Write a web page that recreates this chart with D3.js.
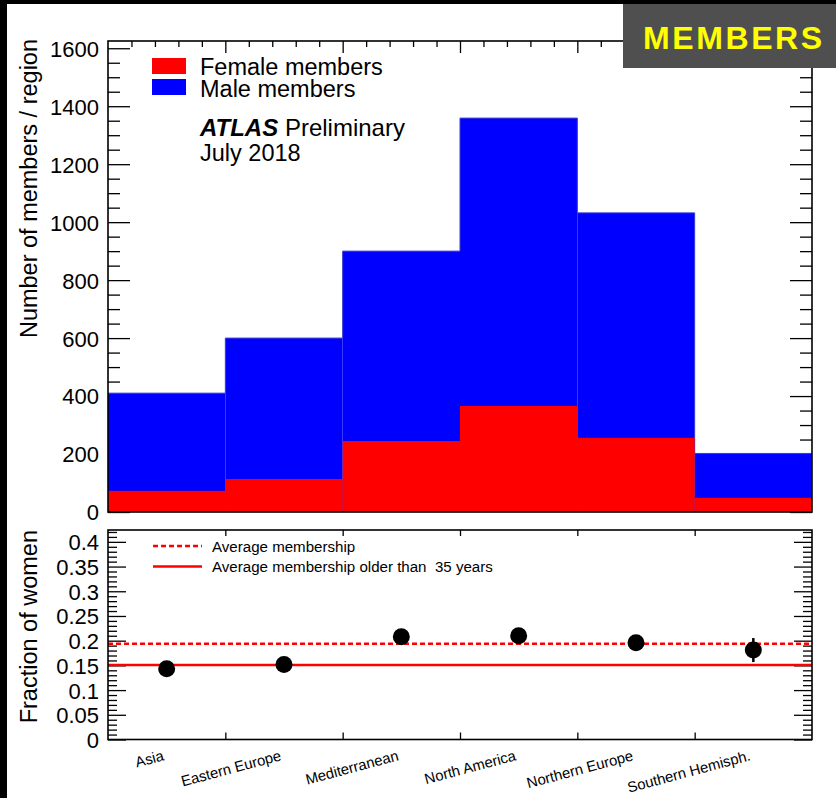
<!DOCTYPE html>
<html>
<head>
<meta charset="utf-8">
<script src="https://cdn.jsdelivr.net/npm/d3@7/dist/d3.min.js"></script>
<style>
  html, body { margin: 0; padding: 0; background: #fff; }
  svg { display: block; }
  text { font-family: "Liberation Sans", Arial, Helvetica, sans-serif; fill: #000; }
</style>
</head>
<body>
<svg id="chart" width="836" height="798"></svg>
<script>
// ATLAS membership per region, July 2018
const regions = ["Asia", "Eastern Europe", "Mediterranean", "North America", "Northern Europe", "Southern Hemisph."];
const femaleMembers = [73, 114, 245, 366, 256, 49];
const maleMembers = [410, 600, 900, 1359, 1032, 202];
const fractionWomen = [0.143, 0.152, 0.208, 0.210, 0.196, 0.181];
const averageFraction = 0.194;
const averageFractionOver35 = 0.151;
const countTicks = [0, 200, 400, 600, 800, 1000, 1200, 1400, 1600];
const fractionTicks = [0, 0.05, 0.1, 0.15, 0.2, 0.25, 0.3, 0.35, 0.4];
const fractionTickLabels = ["0", "0.05", "0.1", "0.15", "0.2", "0.25", "0.3", "0.35", "0.4"];

const svg = d3.select("#chart");

// frame geometry
const left = 108, right = 812;
const top1 = 41, bottom1 = 512;
const top2 = 530, bottom2 = 739.5;

const x = d3.scaleBand().domain(regions).range([left, right]).padding(0);
const bw = x.bandwidth();
const edges = regions.map(r => x(r)).concat([right]);
const minorX = [];
edges.slice(0, -1).forEach(e => { for (let k = 1; k < 5; k++) minorX.push(e + k * bw / 5); });

const yTop = d3.scaleLinear().domain([0, 1625]).range([bottom1, top1]);
const yBot = d3.scaleLinear().domain([0, 0.424]).range([bottom2, top2]);

function styleAxis(g, width) {
  g.select(".domain").remove();
  g.selectAll(".tick line").attr("stroke", "#000").attr("stroke-width", width || 1.3);
  g.selectAll(".tick text").style("font-family", "'Liberation Sans', Arial, Helvetica, sans-serif");
}

// ---------- upper panel: members per region ----------
const up = svg.append("g");

// y ticks (left labelled, right mirrored)
const minorCount = d3.range(0, 1626, 50).filter(v => v % 200 !== 0);
up.append("g").attr("transform", `translate(${left},0)`)
  .call(d3.axisLeft(yTop).tickValues(minorCount).tickSize(-12).tickFormat(""))
  .call(g => styleAxis(g));
up.append("g").attr("transform", `translate(${left},0)`)
  .call(d3.axisLeft(yTop).tickValues(countTicks).tickSizeInner(-22).tickSizeOuter(0).tickPadding(9).tickFormat(d3.format("d")))
  .call(g => styleAxis(g))
  .call(g => g.selectAll(".tick text").attr("font-size", 22).attr("dy", "0.36em"));
up.append("g").attr("transform", `translate(${right},0)`)
  .call(d3.axisRight(yTop).tickValues(minorCount).tickSize(-12).tickFormat(""))
  .call(g => styleAxis(g));
up.append("g").attr("transform", `translate(${right},0)`)
  .call(d3.axisRight(yTop).tickValues(countTicks).tickSize(-22).tickFormat(""))
  .call(g => styleAxis(g));

// x ticks along the top edge
const xEdgeScale = d3.scaleLinear().domain([left, right]).range([left, right]);
up.append("g").attr("transform", `translate(0,${top1})`)
  .call(d3.axisTop(xEdgeScale).tickValues(minorX).tickSize(-6).tickFormat(""))
  .call(g => styleAxis(g));
up.append("g").attr("transform", `translate(0,${top1})`)
  .call(d3.axisTop(xEdgeScale).tickValues(edges.slice(1, -1)).tickSize(-12).tickFormat(""))
  .call(g => styleAxis(g));

// male histogram (blue) and female histogram (red) drawn from zero
up.append("g").selectAll("rect").data(regions).join("rect")
  .attr("x", d => x(d)).attr("width", bw)
  .attr("y", (d, i) => yTop(maleMembers[i]))
  .attr("height", (d, i) => yTop(0) - yTop(maleMembers[i]))
  .attr("fill", "#0000ff");
up.append("path")
  .attr("d", d3.line().curve(d3.curveStepAfter)(
    regions.map((d, i) => [x(d), yTop(maleMembers[i])]).concat([[right, yTop(maleMembers[maleMembers.length - 1])]])))
  .attr("fill", "none").attr("stroke", "#3a3ad0").attr("stroke-width", 1);
up.append("g").selectAll("rect").data(regions).join("rect")
  .attr("x", d => x(d)).attr("width", bw)
  .attr("y", (d, i) => yTop(femaleMembers[i]))
  .attr("height", (d, i) => yTop(0) - yTop(femaleMembers[i]))
  .attr("fill", "#ff0000");

// label box in the corner
svg.append("rect").attr("x", 623).attr("y", 4).attr("width", 213).attr("height", 64).attr("fill", "#4f4f4f");

up.append("rect").attr("x", left).attr("y", top1).attr("width", right - left).attr("height", bottom1 - top1)
  .attr("fill", "none").attr("stroke", "#000").attr("stroke-width", 1.6);

svg.append("text").attr("x", 643).attr("y", 48.5)
  .attr("font-size", 32).attr("font-weight", "bold").attr("letter-spacing", 2.6)
  .style("fill", "#ffff00").text("MEMBERS");

// legend
const legend = up.append("g");
legend.append("rect").attr("x", 152).attr("y", 58).attr("width", 34).attr("height", 16).attr("fill", "#ff0000");
legend.append("rect").attr("x", 152).attr("y", 79).attr("width", 34).attr("height", 16).attr("fill", "#0000ff");
legend.append("text").attr("x", 200).attr("y", 75).attr("font-size", 23.5).text("Female members");
legend.append("text").attr("x", 200).attr("y", 97).attr("font-size", 23.5).text("Male members");
const atl = up.append("text").attr("x", 200).attr("y", 136).attr("font-size", 24);
atl.append("tspan").attr("font-weight", "bold").attr("font-style", "italic").text("ATLAS");
atl.append("tspan").text(" Preliminary");
up.append("text").attr("x", 200).attr("y", 161).attr("font-size", 23.5).text("July 2018");

// y title
up.append("text").attr("transform", "translate(37,39) rotate(-90)")
  .attr("text-anchor", "end").attr("font-size", 23.5).text("Number of members / region");

// ---------- lower panel: fraction of women ----------
const lo = svg.append("g");
const minorFrac = d3.range(1, 43).map(v => v / 100).filter(v => Math.round(v * 100) % 5 !== 0 && v <= 0.424);

lo.append("g").attr("transform", `translate(${left},0)`)
  .call(d3.axisLeft(yBot).tickValues(minorFrac).tickSize(-9).tickFormat(""))
  .call(g => styleAxis(g));
lo.append("g").attr("transform", `translate(${left},0)`)
  .call(d3.axisLeft(yBot).tickValues(fractionTicks).tickSizeInner(-18).tickSizeOuter(0).tickPadding(9)
    .tickFormat((d, i) => fractionTickLabels[i]))
  .call(g => styleAxis(g))
  .call(g => g.selectAll(".tick text").attr("font-size", 22).attr("dy", "0.36em"));
lo.append("g").attr("transform", `translate(${right},0)`)
  .call(d3.axisRight(yBot).tickValues(minorFrac).tickSize(-9).tickFormat(""))
  .call(g => styleAxis(g));
lo.append("g").attr("transform", `translate(${right},0)`)
  .call(d3.axisRight(yBot).tickValues(fractionTicks).tickSize(-18).tickFormat(""))
  .call(g => styleAxis(g));
lo.append("g").attr("transform", `translate(0,${top2})`)
  .call(d3.axisTop(xEdgeScale).tickValues(edges.slice(1, -1)).tickSize(-6).tickFormat(""))
  .call(g => styleAxis(g));
lo.append("g").attr("transform", `translate(0,${bottom2})`)
  .call(d3.axisBottom(xEdgeScale).tickValues(edges.slice(1, -1)).tickSize(-7).tickFormat(""))
  .call(g => styleAxis(g));

// reference lines
lo.append("line").attr("x1", left).attr("x2", right)
  .attr("y1", yBot(averageFraction)).attr("y2", yBot(averageFraction))
  .attr("stroke", "#ff0000").attr("stroke-width", 2.5).attr("stroke-dasharray", "5,3");
lo.append("line").attr("x1", left).attr("x2", right)
  .attr("y1", yBot(averageFractionOver35)).attr("y2", yBot(averageFractionOver35))
  .attr("stroke", "#ff0000").attr("stroke-width", 2.5);

// points with binomial uncertainty
const cx = d => x(d) + bw / 2;
const err = i => {
  const n = femaleMembers[i] + maleMembers[i];
  const p = fractionWomen[i];
  return Math.sqrt(p * (1 - p) / n);
};
lo.append("g").selectAll("line").data(regions).join("line")
  .attr("x1", cx).attr("x2", cx)
  .attr("y1", (d, i) => yBot(fractionWomen[i] - err(i)))
  .attr("y2", (d, i) => yBot(fractionWomen[i] + err(i)))
  .attr("stroke", "#000").attr("stroke-width", 2.5);
lo.append("g").selectAll("circle").data(regions).join("circle")
  .attr("cx", cx).attr("cy", (d, i) => yBot(fractionWomen[i]))
  .attr("r", 8.5).attr("fill", "#000");

lo.append("rect").attr("x", left).attr("y", top2).attr("width", right - left).attr("height", bottom2 - top2)
  .attr("fill", "none").attr("stroke", "#000").attr("stroke-width", 1.6);

// lower legend
lo.append("line").attr("x1", 153).attr("x2", 202).attr("y1", 546).attr("y2", 546)
  .attr("stroke", "#ff0000").attr("stroke-width", 2.5).attr("stroke-dasharray", "5,3");
lo.append("line").attr("x1", 153).attr("x2", 202).attr("y1", 566.5).attr("y2", 566.5)
  .attr("stroke", "#ff0000").attr("stroke-width", 2.5);
lo.append("text").attr("x", 212).attr("y", 551.5).attr("font-size", 15.1).text("Average membership");
lo.append("text").attr("x", 212).attr("y", 572).attr("font-size", 15.1).attr("xml:space", "preserve")
  .style("white-space", "pre").text("Average membership older than  35 years");

// category labels
lo.append("g").selectAll("text").data(regions).join("text")
  .attr("transform", d => `translate(${cx(d) - 2},760) rotate(-15)`)
  .attr("text-anchor", "end").attr("font-size", 14.8).text(d => d);

// y title
lo.append("text").attr("transform", "translate(37,530) rotate(-90)")
  .attr("text-anchor", "end").attr("font-size", 23.5).text("Fraction of women");

// dark border on the left and top
svg.append("rect").attr("x", 0).attr("y", 0).attr("width", 7).attr("height", 798).attr("fill", "#000");
svg.append("rect").attr("x", 0).attr("y", 0).attr("width", 836).attr("height", 4).attr("fill", "#000");
</script>
</body>
</html>
